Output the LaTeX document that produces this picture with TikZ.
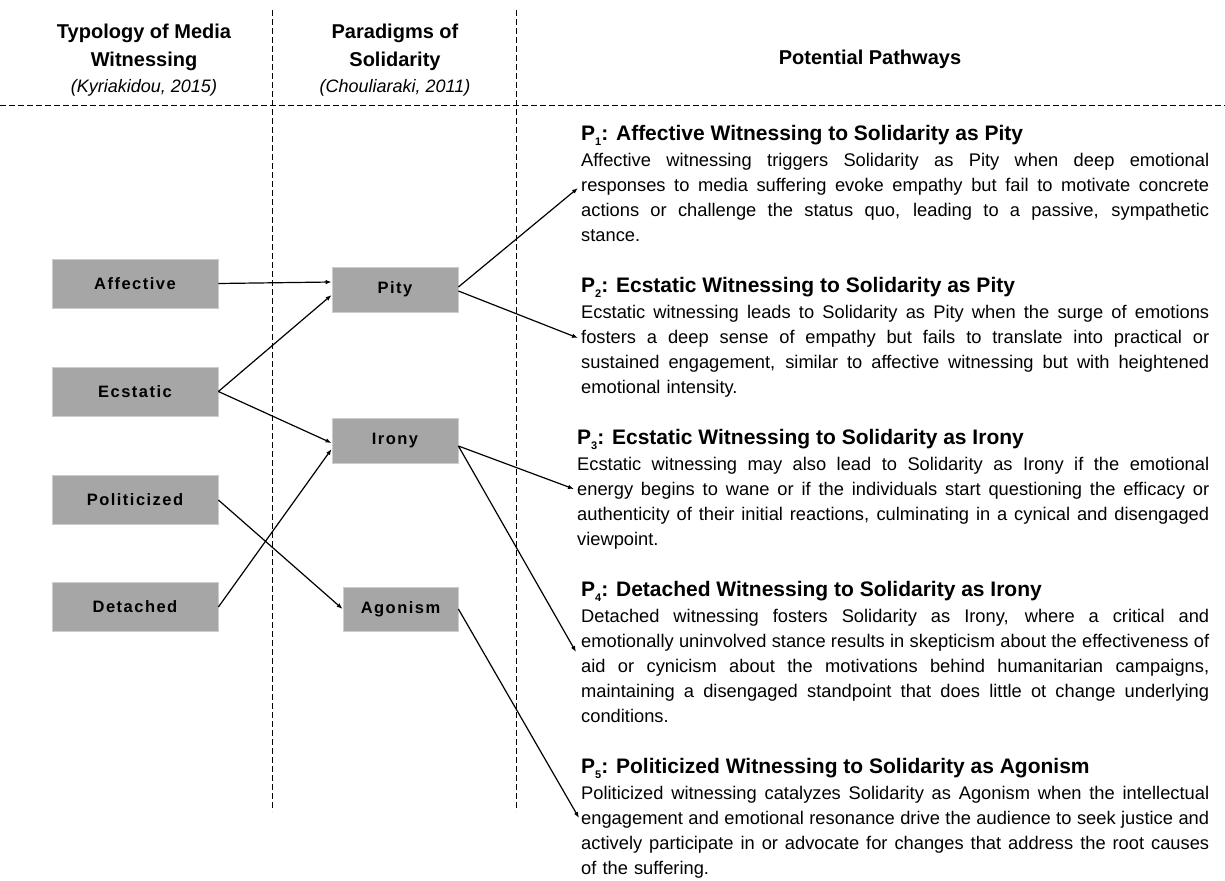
\documentclass[tikz,border=0pt]{standalone}
\usepackage{fontspec}
\setmainfont{Liberation Sans}
\newfontfamily\spacedfont[LetterSpace=9]{Liberation Sans}
\usetikzlibrary{arrows.meta,calc}
\definecolor{boxgray}{RGB}{166,166,166}
\definecolor{boxedge}{RGB}{205,205,205}
\newcommand{\psub}[1]{\raisebox{-0.22em}{\fontsize{11}{11}\selectfont #1}}
\newcommand{\jlw}[2]{\leavevmode\hbox to #1{\spaceskip=0.278em plus 1fil minus 0.07em\relax #2}}
\newcommand{\jl}[1]{\jlw{628pt}{#1}}
\begin{document}
\begin{tikzpicture}[x=1pt,y=-1pt,
  sepline/.style={line width=1pt, dash pattern=on 6pt off 3pt},
  lbox/.style={fill=boxgray, draw=boxedge, line width=0.8pt, minimum width=166pt, minimum height=49pt, inner sep=0pt, font=\spacedfont\bfseries\fontsize{16.5}{20}\selectfont},
  mbox/.style={fill=boxgray, draw=boxedge, line width=0.8pt, minimum width=126pt, minimum height=45pt, inner sep=0pt, font=\spacedfont\bfseries\fontsize{16.5}{20}\selectfont},
  colhead/.style={anchor=base, inner sep=0pt, font=\bfseries\fontsize{20}{24}\selectfont},
  colcite/.style={anchor=base, inner sep=0pt, font=\itshape\fontsize{18}{22}\selectfont},
  phead/.style={anchor=base west, inner sep=0pt, font=\bfseries\fontsize{21}{25}\selectfont},
  pbody/.style={anchor=base west, inner sep=0pt, text width=628pt, align=left, font=\fontsize{18.3}{25}\selectfont},
  conn/.style={line width=1.2pt, -{Latex[length=6pt,width=4.5pt]}}
]
\useasboundingbox (0,0) rectangle (1225,880);

% separators
\draw[sepline] (0,106) -- (1225,106);
\draw[sepline] (272,10) -- (272,811);
\draw[sepline] (516,10) -- (516,811);

% column headers
\node[colhead] (h1a) at (144,39) {Typology of Media};
\node[colhead] (h1b) at (144,67) {Witnessing};
\node[colcite] (h1c) at (144,93) {(Kyriakidou, 2015)};
\node[colhead] (h2a) at (395,39) {Paradigms of};
\node[colhead] (h2b) at (395,67) {Solidarity};
\node[colcite] (h2c) at (395,93) {(Chouliaraki, 2011)};
\node[colhead] (h3) at (870,65) {Potential Pathways};

% left boxes
\node[lbox] (aff) at (135,283.5) {Affective};
\node[lbox] (ecs) at (135,391.5) {Ecstatic};
\node[lbox] (pol) at (135,500) {Politicized};
\node[lbox] (det) at (135,607) {Detached};

% middle boxes
\node[mbox] (pity) at (395,289.5) {Pity};
\node[mbox] (irony) at (395,441) {Irony};
\node[mbox, minimum width=115pt, minimum height=44pt] (agon) at (400.5,609) {Agonism};

% pathways
\node[phead] (p1h) at (581,140.5) {P\psub{1}: Affective Witnessing to Solidarity as Pity};
\node[pbody] (p1b) at (581,166) {\jl{Affective witnessing triggers Solidarity as Pity when deep emotional}\\
\jl{responses to media suffering evoke empathy but fail to motivate concrete}\\
\jl{actions or challenge the status quo, leading to a passive, sympathetic}\\
stance.};

\node[phead] (p2h) at (581,292.5) {P\psub{2}: Ecstatic Witnessing to Solidarity as Pity};
\node[pbody] (p2b) at (581,318) {\jl{Ecstatic witnessing leads to Solidarity as Pity when the surge of emotions}\\
\jl{fosters a deep sense of empathy but fails to translate into practical or}\\
\jl{sustained engagement, similar to affective witnessing but with heightened}\\
emotional intensity.};

\node[phead] (p3h) at (577,444.5) {P\psub{3}: Ecstatic Witnessing to Solidarity as Irony};
\node[pbody, text width=632pt] (p3b) at (577,470) {\jlw{632pt}{Ecstatic witnessing may also lead to Solidarity as Irony if the emotional}\\
\jlw{632pt}{energy begins to wane or if the individuals start questioning the efficacy or}\\
\jlw{632pt}{authenticity of their initial reactions, culminating in a cynical and disengaged}\\
viewpoint.};

\node[phead] (p4h) at (581,596.5) {P\psub{4}: Detached Witnessing to Solidarity as Irony};
\node[pbody] (p4b) at (581,622) {\jl{Detached witnessing fosters Solidarity as Irony, where a critical and}\\
\jl{emotionally uninvolved stance results in skepticism about the effectiveness of}\\
\jl{aid or cynicism about the motivations behind humanitarian campaigns,}\\
\jl{maintaining a disengaged standpoint that does little ot change underlying}\\
conditions.};

\node[phead] (p5h) at (581,773.5) {P\psub{5}: Politicized Witnessing to Solidarity as Agonism};
\node[pbody] (p5b) at (581,799) {\jl{Politicized witnessing catalyzes Solidarity as Agonism when the intellectual}\\
\jl{engagement and emotional resonance drive the audience to seek justice and}\\
\jl{actively participate in or advocate for changes that address the root causes}\\
of the suffering.};

% arrow targets at the pathway texts
\coordinate (t1) at (578,188);
\coordinate (t2) at (578,338);
\coordinate (t3) at (574,489);
\coordinate (t4) at (576,652);
\coordinate (t5) at (579,818);

% connectors
\draw[conn] (aff.east) -- ($(pity.west)+(0,-7.5)$);
\draw[conn] (ecs.east) -- ($(pity.west)+(0,5.5)$);
\draw[conn] (ecs.east) -- ($(irony.west)+(0,2)$);
\draw[conn] (det.east) -- ($(irony.west)+(0,8)$);
\draw[conn] (pol.east) -- (agon.west);
\draw[conn] ($(pity.east)+(0,-2.5)$) -- (t1);
\draw[conn] ($(pity.east)+(0,1.5)$) -- (t2);
\draw[conn] ($(irony.east)+(0,5)$) -- (t3);
\draw[conn] ($(irony.east)+(0,5)$) -- (t4);
\draw[conn] (agon.east) -- (t5);
\end{tikzpicture}
\end{document}
